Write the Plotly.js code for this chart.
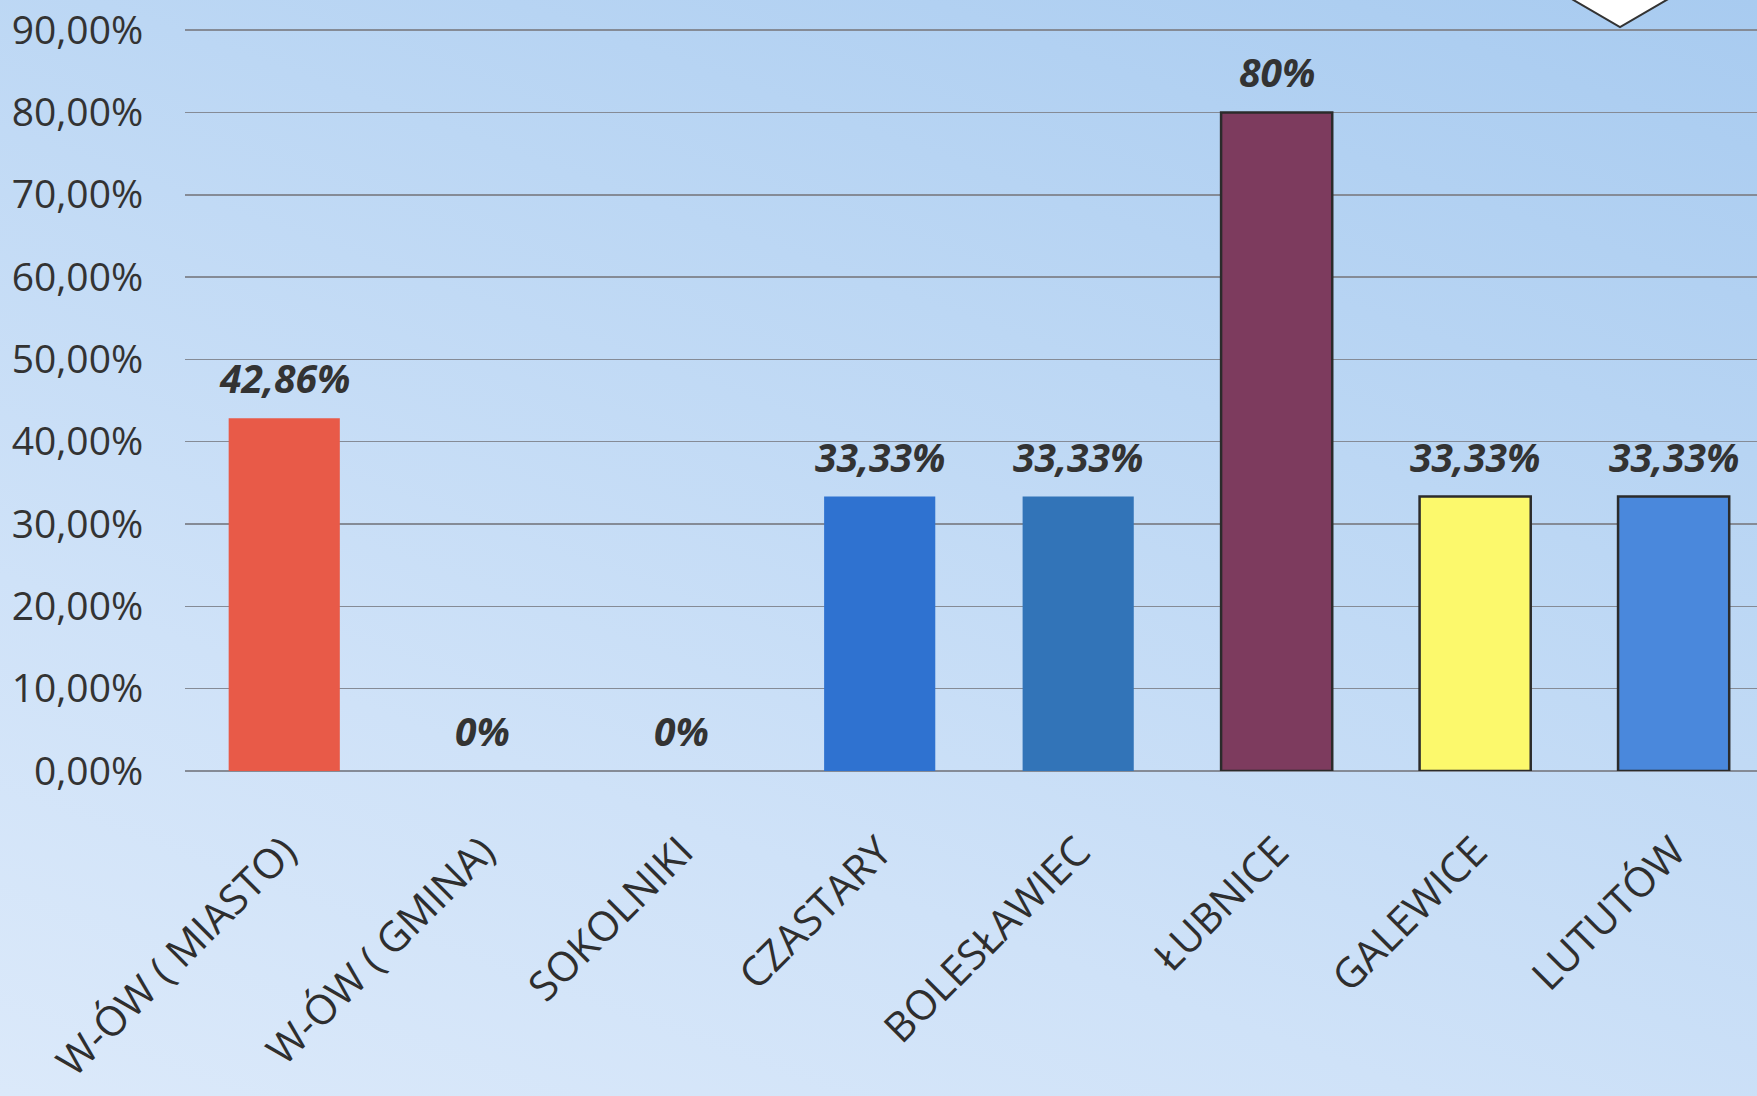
<!DOCTYPE html>
<html>
<head>
<meta charset="utf-8">
<script src="https://cdn.plot.ly/plotly-3.0.1.min.js"></script>
<style>
  html, body { margin: 0; padding: 0; width: 1757px; height: 1096px; overflow: hidden; }
  body { background: linear-gradient(200deg, #a8cbf0 0%, #bcd7f4 35%, #cfe2f8 70%, #dbe9fa 100%); }
  #chart { width: 1757px; height: 1096px; }
</style>
</head>
<body>
<div id="chart"></div>
<script>
const categories = ["W-ÓW ( MIASTO)", "W-ÓW ( GMINA)", "SOKOLNIKI", "CZASTARY", "BOLESŁAWIEC", "ŁUBNICE", "GALEWICE", "LUTUTÓW"];
const values = [42.86, 0, 0, 33.33, 33.33, 80, 33.33, 33.33];
const barColors = ["#e85a48", "#e85a48", "#e85a48", "#2f72d0", "#3274b8", "#7d3b5e", "#fcf96c", "#4a88dc"];
const outlineColors = ["#e85a48", "#e85a48", "#e85a48", "#2f72d0", "#3274b8", "#2b2b2b", "#2b2b2b", "#2b2b2b"];
const outlineWidths = [0, 0, 0, 0, 0, 2.5, 2.5, 2.5];
const yTickValues = [0, 10, 20, 30, 40, 50, 60, 70, 80, 90];

function fmtLabel(v) {
  return Number.isInteger(v) ? v + "%" : v.toFixed(2).replace(".", ",") + "%";
}
const yTickText = yTickValues.map(v => v.toFixed(2).replace(".", ",") + "%");

const trace = {
  type: "bar",
  x: categories,
  y: values,
  width: 0.56,
  marker: { color: barColors, line: { color: outlineColors, width: outlineWidths } },
  hoverinfo: "skip"
};

const annotations = categories.map((c, i) => ({
  x: c, y: values[i], xref: "x", yref: "y",
  text: fmtLabel(values[i]),
  showarrow: false, yanchor: "bottom", yshift: 12,
  font: { family: "Open Sans", size: 39, color: "#333333", weight: 700, style: "italic" }
}));

// decorative white wedge cut off at top right
const L = 185, W = 1757 - 185, H = 771;
const px = p => (p - L) / W, py = p => (H - p) / H;
const shapes = [{
  type: "path", xref: "paper", yref: "paper",
  path: `M ${px(1570)} ${py(-2)} L ${px(1620)} ${py(27)} L ${px(1670)} ${py(-2)} Z`,
  fillcolor: "#ffffff", line: { color: "#333333", width: 2 }, layer: "above"
}];

const layout = {
  width: 1757, height: 1096,
  margin: { l: 185, r: 0, t: 0, b: 325 },
  paper_bgcolor: "rgba(0,0,0,0)",
  plot_bgcolor: "rgba(0,0,0,0)",
  showlegend: false,
  font: { family: "Open Sans", color: "#333333" },
  xaxis: {
    type: "category",
    range: [-0.5, 7.42],
    tickangle: -45,
    ticks: "outside", ticklen: 39, tickcolor: "rgba(0,0,0,0)",
    tickfont: { family: "Open Sans", size: 41, color: "#2e2e2e" },
    showgrid: false, showline: false, zeroline: false,
    automargin: false
  },
  yaxis: {
    range: [0, 93.65],
    tickmode: "array",
    tickvals: yTickValues,
    ticktext: yTickText,
    ticks: "outside", ticklen: 33, tickcolor: "rgba(0,0,0,0)",
    tickfont: { family: "Open Sans", size: 39, color: "#333333" },
    showgrid: true, gridcolor: "#858b96", gridwidth: 1.6,
    zeroline: true, zerolinecolor: "#858b96", zerolinewidth: 1.6,
    showline: false, automargin: false
  },
  annotations: annotations,
  shapes: shapes
};

Plotly.newPlot("chart", [trace], layout, { displayModeBar: false, staticPlot: true });
</script>
</body>
</html>
